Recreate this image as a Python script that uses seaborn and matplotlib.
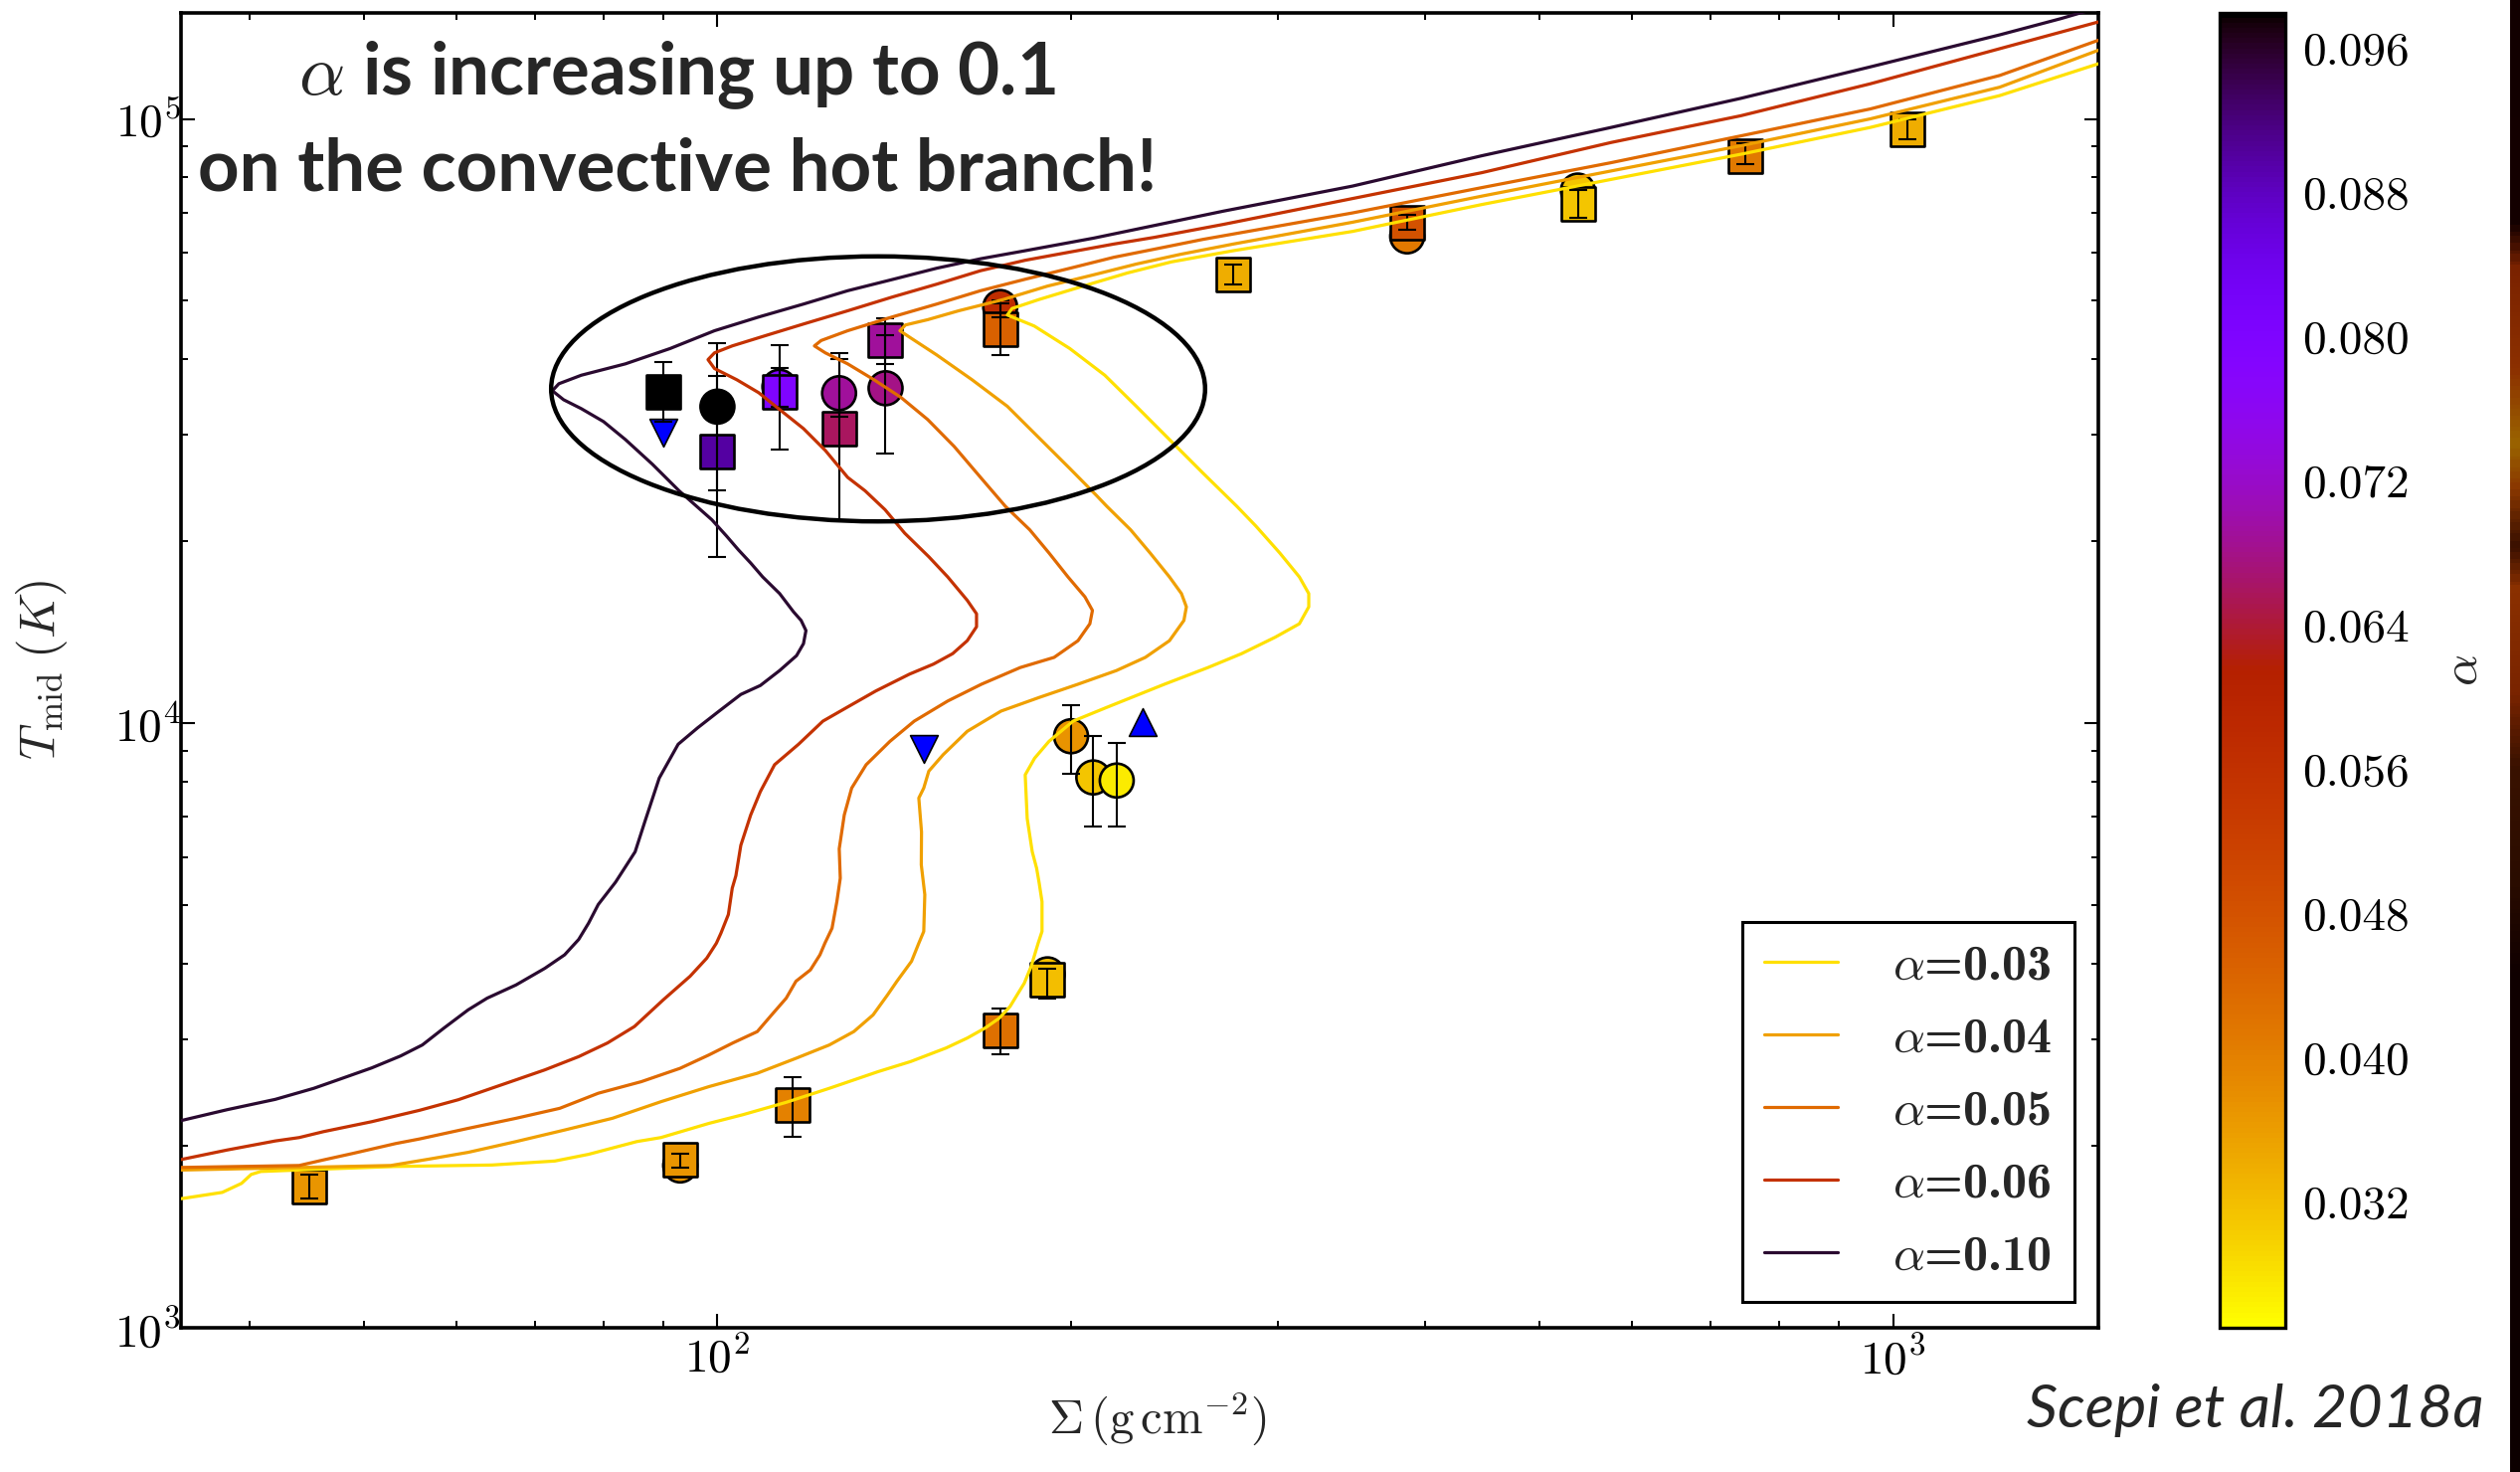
import numpy as np
import pandas as pd
import matplotlib
matplotlib.use("Agg")
import matplotlib.pyplot as plt
import seaborn as sns
from matplotlib.patches import Ellipse
from matplotlib.lines import Line2D
from matplotlib.colors import Normalize, LinearSegmentedColormap
from matplotlib.cm import ScalarMappable
from matplotlib.ticker import NullFormatter, FormatStrFormatter

# ---------------------------------------------------------------------------
# Thermal-equilibrium S-curves: log10(Sigma [g cm^-2]) and log10(T_mid [K])
# ---------------------------------------------------------------------------
curve_labels = [r"$\alpha$=0.03", r"$\alpha$=0.04", r"$\alpha$=0.05",
                r"$\alpha$=0.06", r"$\alpha$=0.10"]
curve_colors = ["#FFE000", "#F0A000", "#E06A00", "#C43200", "#2A0A30"]

log_sigma_a003 = [1.5419, 1.5788, 1.5952, 1.6034, 1.6116, 1.6649, 1.7263, 1.8084,
                  1.8617, 1.8904, 1.9315, 1.9519, 1.9928, 2.0216, 2.0585, 2.0952,
                  2.1366, 2.1643, 2.1945, 2.2126, 2.2277, 2.2398, 2.2489, 2.2549,
                  2.2610, 2.2669, 2.2728, 2.2761, 2.2761, 2.2737, 2.2715, 2.2678,
                  2.2635, 2.2618, 2.2698, 2.2821, 2.3025, 2.3312, 2.3803, 2.4173,
                  2.4459, 2.4745, 2.4950, 2.5030, 2.5030, 2.4950, 2.4784, 2.4581,
                  2.4418, 2.4129, 2.3828, 2.3563, 2.3295, 2.2997, 2.2695, 2.2466,
                  2.2506, 2.2733, 2.3109, 2.3488, 2.3862, 2.4387, 2.5402, 2.6502,
                  2.7601, 2.8706, 2.9806, 3.0907, 3.1747]
log_temp_a003 = [3.2130, 3.2240, 3.2389, 3.2537, 3.2586, 3.2626, 3.2669, 3.2693,
                 3.2759, 3.2870, 3.3081, 3.3147, 3.3382, 3.3525, 3.3730, 3.3962,
                 3.4237, 3.4404, 3.4629, 3.4794, 3.4959, 3.5123, 3.5315, 3.5507,
                 3.5700, 3.5980, 3.6362, 3.6557, 3.7051, 3.7356, 3.7604, 3.7875,
                 3.8426, 3.9148, 3.9423, 3.9703, 4.0036, 4.0264, 4.0647, 4.0923,
                 4.1153, 4.1425, 4.1647, 4.1927, 4.2147, 4.2422, 4.2817, 4.3262,
                 4.3591, 4.4142, 4.4728, 4.5245, 4.5759, 4.6201, 4.6573, 4.6755,
                 4.6863, 4.7010, 4.7232, 4.7451, 4.7634, 4.7819, 4.8138, 4.8583,
                 4.8998, 4.9415, 4.9858, 5.0385, 5.0912]

log_sigma_a004 = [1.5419, 1.7221, 1.7551, 1.7881, 1.8287, 1.8700, 1.9107, 1.9519,
                  1.9928, 2.0339, 2.0668, 2.0952, 2.1160, 2.1324, 2.1447, 2.1527,
                  2.1651, 2.1713, 2.1755, 2.1764, 2.1734, 2.1736, 2.1713, 2.1755,
                  2.1798, 2.1920, 2.2125, 2.2412, 2.2737, 2.3067, 2.3394, 2.3640,
                  2.3845, 2.3968, 2.3989, 2.3947, 2.3845, 2.3681, 2.3515, 2.3312,
                  2.3223, 2.2997, 2.2733, 2.2466, 2.2166, 2.1865, 2.1637, 2.1552,
                  2.1599, 2.1789, 2.2052, 2.2430, 2.2805, 2.3185, 2.3563, 2.3938,
                  2.4387, 2.5402, 2.6502, 2.7601, 2.8706, 2.9806, 3.0907, 3.1747]
log_temp_a004 = [3.2609, 3.2685, 3.2792, 3.2903, 3.3081, 3.3272, 3.3466, 3.3740,
                 3.3990, 3.4211, 3.4458, 3.4679, 3.4900, 3.5176, 3.5507, 3.5733,
                 3.6063, 3.6362, 3.6557, 3.7166, 3.7660, 3.8204, 3.8764, 3.8929,
                 3.9209, 3.9481, 3.9868, 4.0202, 4.0428, 4.0647, 4.0873, 4.1091,
                 4.1367, 4.1702, 4.1927, 4.2147, 4.2422, 4.2817, 4.3201, 4.3591,
                 4.3772, 4.4217, 4.4728, 4.5245, 4.5684, 4.6095, 4.6385, 4.6495,
                 4.6590, 4.6678, 4.6825, 4.7010, 4.7232, 4.7413, 4.7598, 4.7759,
                 4.7929, 4.8290, 4.8722, 4.9138, 4.9555, 5.0000, 5.0524, 5.1136]

log_sigma_a005 = [1.5419, 1.6442, 1.6646, 1.6895, 1.7263, 1.7466, 1.7881, 1.8287,
                  1.8659, 1.8986, 1.9353, 1.9683, 1.9928, 2.0131, 2.0339, 2.0461,
                  2.0585, 2.0668, 2.0791, 2.0872, 2.0914, 2.0975, 2.1016, 2.1045,
                  2.1036, 2.1079, 2.1142, 2.1265, 2.1468, 2.1674, 2.1959, 2.2246,
                  2.2576, 2.2864, 2.3067, 2.3168, 2.3190, 2.3126, 2.2982, 2.2821,
                  2.2657, 2.2449, 2.2238, 2.2014, 2.1789, 2.1561, 2.1332, 2.1108,
                  2.0918, 2.0825, 2.0882, 2.1108, 2.1485, 2.1865, 2.2238, 2.2618,
                  2.2999, 2.3371, 2.3752, 2.4129, 2.5402, 2.6502, 2.7601, 2.8706,
                  2.9806, 3.0907, 3.1747]
log_temp_a005 = [3.2652, 3.2685, 3.2776, 3.2883, 3.3048, 3.3124, 3.3300, 3.3466,
                 3.3631, 3.3880, 3.4072, 3.4293, 3.4514, 3.4712, 3.4900, 3.5176,
                 3.5453, 3.5733, 3.5921, 3.6170, 3.6362, 3.6611, 3.7051, 3.7438,
                 3.7924, 3.8484, 3.8929, 3.9315, 3.9703, 4.0036, 4.0369, 4.0647,
                 4.0923, 4.1091, 4.1367, 4.1647, 4.1868, 4.2092, 4.2422, 4.2817,
                 4.3201, 4.3591, 4.4069, 4.4580, 4.5025, 4.5392, 4.5684, 4.5947,
                 4.6129, 4.6244, 4.6333, 4.6495, 4.6722, 4.6936, 4.7157, 4.7347,
                 4.7529, 4.7710, 4.7858, 4.8006, 4.8444, 4.8863, 4.9275, 4.9719,
                 5.0164, 5.0718, 5.1301]

log_sigma_a006 = [1.5419, 1.5829, 1.6239, 1.6442, 1.6649, 1.7060, 1.7466, 1.7796,
                  1.8041, 1.8287, 1.8532, 1.8820, 1.9065, 1.9294, 1.9539, 1.9767,
                  1.9909, 1.9991, 2.0030, 2.0093, 2.0126, 2.0157, 2.0199, 2.0283,
                  2.0365, 2.0486, 2.0690, 2.0897, 2.1102, 2.1347, 2.1634, 2.1838,
                  2.2001, 2.2125, 2.2204, 2.2204, 2.2125, 2.1959, 2.1798, 2.1593,
                  2.1426, 2.1256, 2.1108, 2.0918, 2.0732, 2.0541, 2.0351, 2.0165,
                  1.9975, 1.9920, 1.9975, 2.0126, 2.0427, 2.0732, 2.1108, 2.1485,
                  2.1865, 2.2238, 2.2618, 2.2999, 2.3371, 2.3714, 2.4302, 2.5402,
                  2.6502, 2.7601, 2.8706, 2.9806, 3.0907, 3.1747]
log_temp_a006 = [3.2776, 3.2941, 3.3091, 3.3147, 3.3245, 3.3410, 3.3598, 3.3773,
                 3.3937, 3.4102, 3.4267, 3.4486, 3.4712, 3.4984, 3.5425, 3.5815,
                 3.6114, 3.6362, 3.6529, 3.6837, 3.7273, 3.7479, 3.7982, 3.8484,
                 3.8870, 3.9315, 3.9654, 4.0036, 4.0264, 4.0535, 4.0814, 4.0980,
                 4.1153, 4.1367, 4.1598, 4.1812, 4.2035, 4.2422, 4.2756, 4.3146,
                 4.3534, 4.3847, 4.4069, 4.4514, 4.4876, 4.5173, 4.5470, 4.5684,
                 4.5870, 4.6017, 4.6129, 4.6244, 4.6425, 4.6606, 4.6825, 4.7051,
                 4.7265, 4.7488, 4.7661, 4.7797, 4.7929, 4.8039, 4.8254, 4.8682,
                 4.9110, 4.9609, 5.0052, 5.0580, 5.1161, 5.1604]

log_sigma_a010 = [1.5436, 1.5829, 1.6239, 1.6567, 1.6772, 1.7060, 1.7305, 1.7490,
                  1.7674, 1.7879, 1.8041, 1.8287, 1.8532, 1.8700, 1.8820, 1.8904,
                  1.8986, 1.9133, 1.9300, 1.9382, 1.9505, 1.9666, 1.9832, 2.0000,
                  2.0199, 2.0365, 2.0529, 2.0673, 2.0732, 2.0753, 2.0712, 2.0647,
                  2.0529, 2.0385, 2.0283, 2.0180, 2.0078, 1.9953, 1.9674, 1.9446,
                  1.9217, 1.9031, 1.8842, 1.8691, 1.8596, 1.8651, 1.8842, 1.9217,
                  1.9598, 1.9975, 2.0351, 2.0732, 2.1108, 2.1485, 2.1865, 2.2241,
                  2.2618, 2.3202, 2.4302, 2.5402, 2.6502, 2.7601, 2.8706, 2.9806,
                  3.0907, 3.1430, 3.1747]
log_temp_a010 = [3.3427, 3.3608, 3.3779, 3.3962, 3.4102, 3.4300, 3.4497, 3.4679,
                 3.4959, 3.5259, 3.5453, 3.5672, 3.5947, 3.6170, 3.6425, 3.6694,
                 3.7002, 3.7371, 3.7875, 3.8369, 3.9094, 3.9654, 3.9926, 4.0181,
                 4.0478, 4.0626, 4.0873, 4.1120, 4.1318, 4.1535, 4.1702, 4.1845,
                 4.2147, 4.2422, 4.2652, 4.2867, 4.3097, 4.3367, 4.3847, 4.4288,
                 4.4695, 4.4992, 4.5206, 4.5354, 4.5502, 4.5618, 4.5759, 4.5947,
                 4.6201, 4.6495, 4.6722, 4.6936, 4.7157, 4.7341, 4.7529, 4.7687,
                 4.7819, 4.8028, 4.8473, 4.8888, 4.9390, 4.9858, 5.0340, 5.0860,
                 5.1390, 5.1660, 5.1840]

curve_log_sigma = [log_sigma_a003, log_sigma_a004, log_sigma_a005,
                   log_sigma_a006, log_sigma_a010]
curve_log_temp = [log_temp_a003, log_temp_a004, log_temp_a005,
                  log_temp_a006, log_temp_a010]

# ---------------------------------------------------------------------------
# Simulation points: surface density, midplane temperature, error range, alpha
# ---------------------------------------------------------------------------
sq_sigma = [89.9, 100.0, 112.9, 126.9, 139.0, 174.0, 44.96, 92.96,
            115.9, 174.0, 190.9, 274.5, 386.1, 539.4, 748.5, 1028.0]
sq_temp = [35370, 28170, 35300, 30780, 43090, 44910, 1713, 1895,
           2339, 3103, 3763, 55340, 67270, 72440, 86900, 96270]
sq_temp_lo = [31570, 18840, 28390, 21620, 39260, 40690, 1637, 1842,
              2072, 2838, 3498, 53280, 65630, 68550, 84320, 92680]
sq_temp_hi = [39630, 37570, 42270, 40000, 46730, 49580, 1793, 1942,
              2596, 3369, 3933, 57480, 69470, 76380, 91310, 100000]
sq_alpha = [0.098, 0.090, 0.080, 0.066, 0.069, 0.045, 0.037, 0.037,
            0.040, 0.0425, 0.032, 0.034, 0.048, 0.031, 0.041, 0.034]

ci_sigma = [100.0, 112.9, 126.9, 139.0, 174.0, 199.9, 208.8, 218.6,
            92.96, 190.9, 386.1, 539.4]
ci_temp = [33410, 36050, 35170, 35840, 48830, 9520, 8137, 8042,
           1856, 3843, 63920, 76100]
ci_temp_lo = [24290, 33410, 32170, 27950, 47000, 8240, 6752, 6752,
              1856, 3843, 63920, 76100]
ci_temp_hi = [42600, 38660, 41020, 43900, 50130, 10710, 9519, 9284,
              1856, 3843, 63920, 76100]
ci_alpha = [0.098, 0.080, 0.069, 0.068, 0.057, 0.0374, 0.031, 0.027,
            0.037, 0.032, 0.041, 0.031]

down_sigma = [89.9, 149.8]
down_temp = [30280, 9083]
up_sigma = [229.8]
up_temp = [10050]

cbar_ticks = [0.032, 0.040, 0.048, 0.056, 0.064, 0.072, 0.080, 0.088, 0.096]
alpha_min, alpha_max = 0.025, 0.098

# ---------------------------------------------------------------------------
sns.set_style("ticks")
plt.rcParams.update({
    "font.family": "cmr10",
    "mathtext.fontset": "cm",
    "axes.formatter.use_mathtext": True,
    "axes.unicode_minus": False,
    "axes.edgecolor": "black",
    "xtick.color": "black",
    "ytick.color": "black",
})

W, H = 2534, 1480
fig = plt.figure(figsize=(W / 200, H / 200), dpi=200)
fig.patch.set_facecolor("white")

ax_l, ax_r, ax_t, ax_b = 182, 2110, 12.5, 1335
ax = fig.add_axes([ax_l / W, 1 - ax_b / H, (ax_r - ax_l) / W, (ax_b - ax_t) / H])
ax.set_xscale("log")
ax.set_yscale("log")

norm = Normalize(alpha_min, alpha_max)

# S-curves
frames = []
for lab, lx, ly in zip(curve_labels, curve_log_sigma, curve_log_temp):
    frames.append(pd.DataFrame({"Sigma": 10 ** np.asarray(lx),
                                "T": 10 ** np.asarray(ly),
                                "curve": lab}))
curves = pd.concat(frames, ignore_index=True)
sns.lineplot(data=curves, x="Sigma", y="T", hue="curve", hue_order=curve_labels,
             palette=dict(zip(curve_labels, curve_colors)), sort=False,
             estimator=None, linewidth=1.15, legend=False, ax=ax, zorder=3)

# circles (drawn first, they sit behind the squares)
circles = pd.DataFrame({"Sigma": ci_sigma, "T": ci_temp, "alpha": ci_alpha})
sns.scatterplot(data=circles, x="Sigma", y="T", hue="alpha", palette="gnuplot_r",
                hue_norm=norm, marker="o", s=150, edgecolor="black",
                linewidth=0.95, legend=False, ax=ax, zorder=2)
squares = pd.DataFrame({"Sigma": sq_sigma, "T": sq_temp, "alpha": sq_alpha})
sns.scatterplot(data=squares, x="Sigma", y="T", hue="alpha", palette="gnuplot_r",
                hue_norm=norm, marker="s", s=150, edgecolor="black",
                linewidth=0.95, legend=False, ax=ax, zorder=2.1)
sns.scatterplot(x=down_sigma, y=down_temp, marker="v", color="#0000FF", s=100,
                edgecolor="black", linewidth=0.6, legend=False, ax=ax, zorder=2.2)
sns.scatterplot(x=up_sigma, y=up_temp, marker="^", color="#0000FF", s=100,
                edgecolor="black", linewidth=0.6, legend=False, ax=ax, zorder=2.2)

# error bars
for sg, tt, lo, hi in [(sq_sigma, sq_temp, sq_temp_lo, sq_temp_hi),
                       (ci_sigma, ci_temp, ci_temp_lo, ci_temp_hi)]:
    sg, tt, lo, hi = map(np.asarray, (sg, tt, lo, hi))
    m = hi > lo
    ax.errorbar(sg[m], tt[m], yerr=[tt[m] - lo[m], hi[m] - tt[m]], fmt="none",
                ecolor="black", elinewidth=0.75, capsize=3.3, capthick=0.75,
                zorder=2.5)

ax.set_xlim(34.97, 1495)
ax.set_ylim(1.0e3, 1.5e5)

for sp in ax.spines.values():
    sp.set_linewidth(1.3)
    sp.set_color("black")
ax.tick_params(which="both", direction="in", top=True, right=True,
               color="black")
ax.tick_params(which="major", length=5, width=0.75, labelsize=17)
ax.tick_params(axis="x", which="major", pad=3.0)
ax.tick_params(axis="y", which="major", pad=0.0)
ax.tick_params(which="minor", length=2.6, width=0.7)
ax.xaxis.set_minor_formatter(NullFormatter())
ax.yaxis.set_minor_formatter(NullFormatter())

ax.set_xlabel(r"$\Sigma\,(\mathrm{g\,cm^{-2}})$", fontsize=17.5)
ax.set_ylabel(r"$T_{\mathrm{mid}}\;(K)$", fontsize=18)
ax.xaxis.set_label_coords(0.509, -(1398 - ax_b) / (ax_b - ax_t))
ax.yaxis.set_label_coords((70 - ax_l) / (ax_r - ax_l), 0.5)

# highlighted region
ax.add_patch(Ellipse(((883 - ax_l) / (ax_r - ax_l), (ax_b - 391) / (ax_b - ax_t)),
                     657.6 / (ax_r - ax_l), 266.5 / (ax_b - ax_t),
                     transform=ax.transAxes, fill=False, edgecolor="black",
                     linewidth=1.6, zorder=4))

# legend
handles = [Line2D([], [], color=c, linewidth=1.15) for c in curve_colors]
leg = ax.legend(handles, curve_labels, loc="lower right",
                bbox_to_anchor=((2086 - ax_l) / (ax_r - ax_l),
                                (ax_b - 1309) / (ax_b - ax_t)),
                borderaxespad=0, frameon=True, fancybox=False, shadow=False,
                edgecolor="black", framealpha=1,
                prop={"family": "cmb10", "size": 18},
                handlelength=1.48, handletextpad=1.1, labelspacing=0.56,
                borderpad=0.45)
leg.get_frame().set_linewidth(1.1)
leg.set_zorder(5)

# headline
cx = (681 - ax_l) / (ax_r - ax_l)
t1 = ax.text(cx, (ax_b - 95) / (ax_b - ax_t), r"$\alpha$ is increasing up to 0.1",
             transform=ax.transAxes, ha="center", va="baseline",
             fontfamily="Lato", fontweight="bold", fontsize=26, zorder=6)
t2 = ax.text(cx, (ax_b - 191.5) / (ax_b - ax_t), "on the convective hot branch!",
             transform=ax.transAxes, ha="center", va="baseline",
             fontfamily="Lato", fontweight="bold", fontsize=26, zorder=6)
cite = fig.text(2038 / W, (H - 1435) / H, "Scepi et al. 2018a", ha="left",
                va="baseline", fontfamily="Lato", fontstyle="italic", fontsize=20)

renderer = fig.canvas.get_renderer()
w2 = t2.get_window_extent(renderer).width
t2.set_fontsize(26 * 964 / w2)
t1.set_fontsize(26 * 964 / w2)
wc = cite.get_window_extent(renderer).width
cite.set_fontsize(20 * 460 / wc)

# colour bar
cax = fig.add_axes([2232 / W, 1 - ax_b / H, 66 / W, (ax_b - ax_t) / H])
sm = ScalarMappable(norm=norm, cmap="gnuplot_r")
cb = fig.colorbar(sm, cax=cax, ticks=cbar_ticks)
cb.outline.set_linewidth(1.2)
cb.outline.set_edgecolor("black")
cax.yaxis.set_major_formatter(FormatStrFormatter("%.3f"))
cax.tick_params(which="major", direction="in", length=4, width=0.7,
                labelsize=17, pad=6, right=True, left=False, color="black")
cax.minorticks_off()
cb.set_label(r"$\alpha$", fontsize=18)
cax.yaxis.set_label_coords((2455 - 2232) / 66, 0.5)

# thin strip along the right edge
strip_stops = [0.0, 0.15, 0.18, 0.25, 0.30, 0.33, 0.37, 0.40, 0.47, 0.52, 0.60, 0.66, 1.0]
strip_colors = ["#120000", "#140000", "#7a2200", "#8c3000", "#9a6400", "#8a3800",
                "#3a1000", "#8a3000", "#7a2400", "#3a1200", "#2a0c00", "#100000",
                "#0c0000"]
strip_cmap = LinearSegmentedColormap.from_list("strip", list(zip(strip_stops, strip_colors)))
sax = fig.add_axes([2524 / W, 0, 10 / W, 1])
sax.imshow(np.linspace(0, 1, 400)[:, None], aspect="auto", cmap=strip_cmap)
sax.axis("off")

fig.savefig("out.png", dpi=200, facecolor="white")
